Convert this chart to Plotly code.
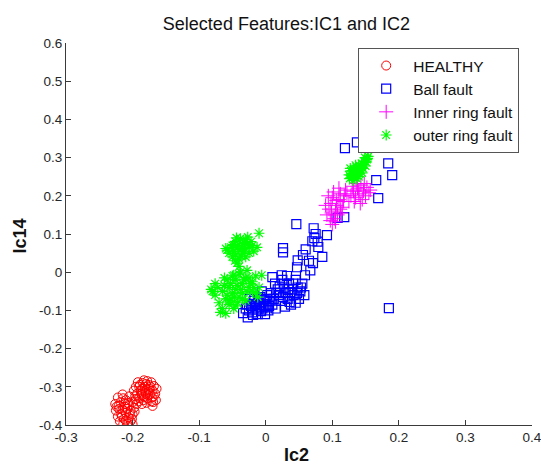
import plotly.graph_objects as go

# ---------------- data ----------------
healthy_x = [-0.190, -0.185, -0.178, -0.172, -0.168, -0.170, -0.175, -0.182, -0.188, -0.193,
             -0.186, -0.180, -0.174, -0.168, -0.165, -0.172, -0.178, -0.184, -0.190, -0.196,
             -0.198, -0.195, -0.183, -0.176, -0.181, -0.187, -0.179, -0.170, -0.166, -0.164,
             -0.192, -0.186, -0.176, -0.171, -0.183,
             -0.215, -0.222, -0.205, -0.210, -0.218, -0.226, -0.200, -0.205, -0.212, -0.220,
             -0.225, -0.198, -0.203, -0.210, -0.217, -0.222, -0.200, -0.206, -0.213, -0.219,
             -0.203, -0.208, -0.214, -0.200, -0.194, -0.197, -0.215, -0.207, -0.221, -0.210,
             -0.189, -0.180, -0.173, -0.185, -0.177, -0.169, -0.191, -0.214, -0.208, -0.216,
             -0.204, -0.224, -0.201, -0.211, -0.195]
healthy_y = [-0.300, -0.290, -0.285, -0.288, -0.298, -0.310, -0.305, -0.300, -0.310, -0.318,
             -0.322, -0.318, -0.320, -0.325, -0.335, -0.338, -0.330, -0.335, -0.330, -0.325,
             -0.310, -0.300, -0.283, -0.295, -0.310, -0.318, -0.342, -0.350, -0.318, -0.305,
             -0.288, -0.345, -0.313, -0.328, -0.326,
             -0.320, -0.328, -0.325, -0.335, -0.340, -0.345, -0.340, -0.350, -0.352, -0.358,
             -0.362, -0.355, -0.362, -0.368, -0.372, -0.378, -0.372, -0.380, -0.384, -0.390,
             -0.390, -0.396, -0.398, -0.398, -0.345, -0.365, -0.360, -0.342, -0.350, -0.388,
             -0.295, -0.293, -0.300, -0.305, -0.322, -0.340, -0.338, -0.330, -0.358, -0.378,
             -0.370, -0.352, -0.384, -0.345, -0.332]

ball_x = [-0.027, -0.025, -0.022, -0.020, -0.018, -0.015, -0.012, -0.010, -0.008, -0.005,
          -0.003, 0.000, 0.002, 0.004, 0.006, -0.028, -0.017, -0.006, 0.008, 0.010,
          -0.013, -0.001, -0.034, 0.003,
          -0.024, -0.020, -0.016, -0.011, -0.007, -0.002, 0.001, 0.005, -0.030, -0.019,
          0.012, 0.015,
          0.014, 0.018, 0.020, 0.022, 0.025, 0.028, 0.030, 0.033, 0.035, 0.038,
          0.040, 0.042, 0.045, 0.048, 0.050, 0.052, 0.055, 0.058, 0.032, 0.045,
          0.026, 0.037, 0.010, 0.024,
          0.016, 0.027, 0.034, 0.041, 0.047, 0.053, 0.036, 0.029, 0.021,
          0.026, 0.026, 0.047, 0.048, 0.056, 0.059, 0.067, 0.071, 0.085, 0.072,
          0.073, 0.078, 0.092, 0.070, 0.079, 0.046, 0.118, 0.108, 0.166, 0.169,
          0.184, 0.190, 0.119, 0.137, 0.185, 0.060, 0.065, 0.075]
ball_y = [-0.118, -0.100, -0.088, -0.105, -0.075, -0.092, -0.110, -0.080, -0.065, -0.095,
          -0.072, -0.085, -0.060, -0.100, -0.075, -0.085, -0.062, -0.050, -0.055, -0.085,
          -0.098, -0.110, -0.107, -0.092,
          -0.070, -0.095, -0.083, -0.070, -0.102, -0.090, -0.070, -0.088, -0.095, -0.112,
          -0.070, -0.095,
          -0.030, -0.045, -0.060, -0.075, -0.020, -0.040, -0.055, -0.070, -0.030, -0.085,
          -0.045, -0.060, -0.020, -0.040, -0.070, -0.050, -0.030, -0.060, -0.010, -0.080,
          -0.065, -0.052, -0.013, -0.008,
          -0.055, -0.030, -0.045, -0.030, -0.055, -0.040, -0.078, -0.090, -0.038,
          0.063, 0.052, 0.013, 0.031, 0.045, -0.008, 0.005, 0.024, 0.040, 0.115,
          0.089, 0.080, 0.097, 0.081, 0.066, 0.126, 0.144, 0.142, 0.241, 0.194,
          0.285, 0.254, 0.325, 0.340, -0.094, 0.060, 0.030, 0.100]

inner_x = [0.092, 0.095, 0.098, 0.100, 0.103, 0.105, 0.107, 0.110, 0.112, 0.115,
           0.117, 0.097, 0.100, 0.108, 0.113, 0.094, 0.102, 0.110, 0.118, 0.090,
           0.105, 0.112, 0.099, 0.106, 0.120,
           0.128, 0.132, 0.135, 0.138, 0.140, 0.143, 0.145, 0.147, 0.150, 0.152,
           0.155, 0.130, 0.125, 0.142, 0.136, 0.148, 0.122, 0.133, 0.157, 0.140]
inner_y = [0.150, 0.165, 0.180, 0.195, 0.140, 0.160, 0.175, 0.190, 0.205, 0.170,
           0.185, 0.135, 0.125, 0.150, 0.155, 0.200, 0.210, 0.220, 0.200, 0.175,
           0.132, 0.165, 0.155, 0.188, 0.215,
           0.200, 0.212, 0.195, 0.220, 0.205, 0.228, 0.190, 0.212, 0.200, 0.222,
           0.208, 0.225, 0.185, 0.180, 0.232, 0.232, 0.205, 0.185, 0.215, 0.215]

outer_x = [0.125, 0.128, 0.130, 0.132, 0.134, 0.136, 0.138, 0.140, 0.140, 0.142,
           0.144, 0.146, 0.148, 0.150, 0.152, 0.154, 0.131, 0.137, 0.127, 0.145,
           0.149, 0.135, 0.129, 0.133, 0.139, 0.143, 0.147, 0.151, 0.141, 0.135,
           0.153, 0.126,
           -0.010, -0.013, -0.058, -0.050, -0.045, -0.040, -0.035, -0.030, -0.025, -0.020,
           -0.045, -0.040, -0.035, -0.030, -0.043, -0.048, -0.018, -0.027, -0.038, -0.052,
           -0.055, -0.048, -0.042, -0.036, -0.032, -0.028, -0.022, -0.044, -0.050, -0.037,
           -0.046, -0.040, -0.033, -0.025, -0.060,
           -0.076, -0.076, -0.068, -0.060, -0.006, -0.050, -0.045, -0.040, -0.035, -0.030,
           -0.025, -0.020, -0.055, -0.050, -0.045, -0.040, -0.035, -0.030, -0.060, -0.065,
           -0.055, -0.048, -0.042, -0.020, -0.015, -0.010, -0.012, -0.070, -0.058, -0.038,
           -0.028, -0.052, -0.082,
           -0.062, -0.058, -0.053, -0.047, -0.043, -0.038, -0.033, -0.028, -0.023, -0.018,
           -0.048, -0.055, -0.045, -0.065, -0.072, -0.080, -0.062, -0.035, -0.025, -0.015]
outer_y = [0.255, 0.265, 0.248, 0.270, 0.258, 0.275, 0.262, 0.250, 0.280, 0.268,
           0.285, 0.272, 0.290, 0.278, 0.295, 0.303, 0.240, 0.245, 0.272, 0.260,
           0.300, 0.265, 0.258, 0.250, 0.270, 0.276, 0.282, 0.288, 0.258, 0.280,
           0.298, 0.245,
           0.102, 0.065, 0.058, 0.070, 0.080, 0.060, 0.075, 0.085, 0.065, 0.070,
           0.045, 0.035, 0.050, 0.040, 0.024, 0.055, 0.055, 0.092, 0.088, 0.065,
           0.050, 0.072, 0.068, 0.062, 0.055, 0.072, 0.080, 0.090, 0.040, 0.042,
           0.030, 0.015, 0.078, 0.050, 0.062,
           -0.060, -0.030, -0.105, -0.108, -0.008, -0.010, -0.020, -0.005, -0.030, -0.015,
           -0.040, -0.025, -0.040, -0.055, -0.045, -0.065, -0.055, -0.075, -0.070, -0.050,
           -0.085, -0.095, -0.080, -0.050, -0.010, -0.040, -0.065, -0.080, -0.020, 0.000,
           0.005, -0.070, -0.045,
           -0.035, -0.060, -0.030, -0.065, -0.035, -0.045, -0.020, -0.050, -0.030, -0.040,
           -0.008, -0.075, -0.088, -0.095, -0.040, -0.050, -0.015, -0.070, -0.015, -0.055]

x_ticks = [-0.3, -0.2, -0.1, 0, 0.1, 0.2, 0.3, 0.4]
x_tick_labels = ["-0.3", "-0.2", "-0.1", "0", "0.1", "0.2", "0.3", "0.4"]
y_ticks = [-0.4, -0.3, -0.2, -0.1, 0, 0.1, 0.2, 0.3, 0.4, 0.5, 0.6]
y_tick_labels = ["-0.4", "-0.3", "-0.2", "-0.1", "0", "0.1", "0.2", "0.3", "0.4", "0.5", "0.6"]

FONT = "Liberation Sans, Arial, sans-serif"
AX = "#3a3a3a"

fig = go.Figure()
fig.add_trace(go.Scatter(x=healthy_x, y=healthy_y, mode="markers", name="HEALTHY",
                         marker=dict(symbol="circle-open", size=9, color="#ff0000",
                                     line=dict(color="#ff0000", width=1))))
fig.add_trace(go.Scatter(x=ball_x, y=ball_y, mode="markers", name="Ball fault",
                         marker=dict(symbol="square-open", size=9, color="#0000ff",
                                     line=dict(color="#0000ff", width=1.2))))
fig.add_trace(go.Scatter(x=inner_x, y=inner_y, mode="markers", name="Inner ring fault",
                         marker=dict(symbol="cross-thin-open", size=10, color="#ff00ff",
                                     line=dict(color="#ff00ff", width=1))))
fig.add_trace(go.Scatter(x=outer_x, y=outer_y, mode="markers", name="outer ring fault",
                         marker=dict(symbol="asterisk-open", size=9, color="#00ff00",
                                     line=dict(color="#00ff00", width=1.2))))

fig.update_layout(
    width=541, height=464,
    margin=dict(l=66, r=9, t=43, b=39, autoexpand=False),
    paper_bgcolor="white", plot_bgcolor="white",
    font=dict(family=FONT, color="#222222"),
    title=dict(text="Selected Features:IC1 and IC2", x=0.473, xref="paper",
               xanchor="center", y=1 - 24 / 464, yref="container", yanchor="middle",
               font=dict(size=18, family=FONT, color="#111111")),
    showlegend=True,
    legend=dict(x=0.627, y=0.987, xanchor="left", yanchor="top",
                bgcolor="white", bordercolor="#555555", borderwidth=1,
                font=dict(size=15.5, family=FONT, color="#111111"),
                itemwidth=44),
    xaxis=dict(range=[-0.3, 0.4], tickmode="array", tickvals=x_ticks, ticktext=x_tick_labels,
               showline=True, linecolor=AX, linewidth=1, ticks="inside", ticklen=5,
               tickcolor=AX, showgrid=False, zeroline=False, ticklabeloverflow="allow",
               automargin=False,
               tickfont=dict(size=13.5, family=FONT, color="#262626")),
    yaxis=dict(range=[-0.4, 0.6], tickmode="array", tickvals=y_ticks, ticktext=y_tick_labels,
               showline=True, linecolor=AX, linewidth=1, ticks="inside", ticklen=5,
               tickcolor=AX, showgrid=False, zeroline=False, ticklabeloverflow="allow",
               automargin=False,
               tickfont=dict(size=13.5, family=FONT, color="#262626")),
    annotations=[
        dict(text="<b>Ic2</b>", xref="paper", yref="paper", x=0.4936, y=(425 - 455) / 382,
             xanchor="center", yanchor="middle", showarrow=False,
             font=dict(size=18, family=FONT, color="#111111")),
        dict(text="<b>Ic14</b>", xref="paper", yref="paper", x=(19.5 - 66) / 466,
             y=(425 - 236) / 382, xanchor="center", yanchor="middle", textangle=-90,
             showarrow=False, font=dict(size=18, family=FONT, color="#111111")),
    ],
)

fig.write_html("out.html", config={"displayModeBar": False},
               post_script="document.body.style.margin='0';document.body.style.padding='0';")
